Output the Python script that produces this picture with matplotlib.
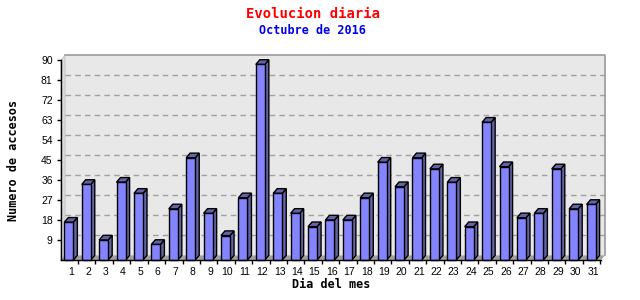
import matplotlib
matplotlib.use('Agg')
import matplotlib.pyplot as plt
from matplotlib.patches import Polygon

# datos
dias = list(range(1, 32))
accesos = [17, 34, 9, 35, 30, 7, 23, 46, 21, 11, 28, 88, 30, 21, 15, 18,
           18, 28, 44, 33, 46, 41, 35, 15, 62, 42, 19, 21, 41, 23, 25]
yticks = [9, 18, 27, 36, 45, 54, 63, 72, 81, 90]

titulo = 'Evolucion diaria'
subtitulo = 'Octubre de 2016'
xlabel = 'Dia del mes'
ylabel = 'Numero de accesos'

# estilo 3d
x0, x1 = 0.44, 31.46
ymax = 90
DX = 0.23   # profundidad en x (unidades de datos)
DY = 2.1    # profundidad en y
W = 0.52    # ancho de la cara frontal
frente = '#8484ff'
lado = '#6464a4'
mono = 'DejaVu Sans Mono'

fig = plt.figure(figsize=(6.4, 3.0), dpi=100)
ax = fig.add_axes([61/640, 40/300, 540/640, 200/300])
ax.set_xlim(x0, x1)
ax.set_ylim(0, ymax)
ax.set_facecolor('none')

# pared del fondo, pared izquierda y suelo
ax.add_patch(Polygon([(x0+DX, DY), (x1+DX, DY), (x1+DX, ymax+DY), (x0+DX, ymax+DY)],
                     closed=True, facecolor='#e8e8e8', edgecolor='none', zorder=0, clip_on=False))
ax.add_patch(Polygon([(x0, 0), (x0+DX, DY), (x0+DX, ymax+DY), (x0, ymax)],
                     closed=True, facecolor='#dcdcdc', edgecolor='#c8c8c8', lw=0.8, zorder=0.5, clip_on=False))
ax.add_patch(Polygon([(x0, 0), (x1, 0), (x1+DX, DY), (x0+DX, DY)],
                     closed=True, facecolor='#a0a0a0', edgecolor='none', zorder=0.5, clip_on=False))
for v in yticks[:-1]:
    ax.plot([x0+DX, x1+DX], [v+DY, v+DY], color='#a0a0a0', lw=1, ls=(0, (4, 3)), zorder=0.6, clip_on=False)
ax.plot([x0+DX, x1+DX, x1+DX], [ymax+DY, ymax+DY, DY], color='#9a9a9a', lw=1.2, zorder=0.6, clip_on=False)

# barras
for d, v in zip(dias, accesos):
    xl = d - 0.37
    xr = xl + W
    ax.add_patch(Polygon([(xr, 0), (xr+DX, DY), (xr+DX, v+DY), (xr, v)],
                         closed=True, facecolor=lado, edgecolor='black', lw=1, zorder=2, clip_on=False))
    ax.add_patch(Polygon([(xl, v), (xr, v), (xr+DX, v+DY), (xl+DX, v+DY)],
                         closed=True, facecolor=lado, edgecolor='black', lw=1, zorder=2, clip_on=False))
ax.bar([d - 0.37 for d in dias], accesos, width=W, align='edge', color=frente,
       edgecolor='black', linewidth=1, zorder=3, clip_on=False)

# ejes
for s in ['top', 'right']:
    ax.spines[s].set_visible(False)
for s in ['left', 'bottom']:
    ax.spines[s].set_color('black')
    ax.spines[s].set_linewidth(1)
    ax.spines[s].set_zorder(4)

ax.set_yticks(yticks)
ax.set_yticklabels([str(t) for t in yticks], fontfamily='Liberation Sans', fontsize=7.5)
ax.tick_params(axis='y', length=3, width=1, pad=3)
ax.set_xticks(dias)
ax.set_xticklabels([str(d) for d in dias], fontfamily='Liberation Sans', fontsize=7.5)
ax.set_xticks([d + 0.42 for d in dias], minor=True)
ax.tick_params(axis='x', which='major', length=0, pad=5)
ax.tick_params(axis='x', which='minor', length=3, width=1)

ax.set_xlabel(xlabel, fontfamily=mono, fontweight='bold', fontsize=8.5, labelpad=1)
ax.set_ylabel(ylabel, fontfamily=mono, fontweight='bold', fontsize=8.5, labelpad=15)

fig.text(313/640, 1 - 14/300, titulo, color='red', fontfamily=mono, fontweight='bold',
         fontsize=10, ha='center', va='center')
fig.text(312/640, 1 - 31/300, subtitulo, color='#0000ee', fontfamily=mono, fontweight='bold',
         fontsize=8.5, ha='center', va='center')

fig.savefig('out.png', dpi=100)
